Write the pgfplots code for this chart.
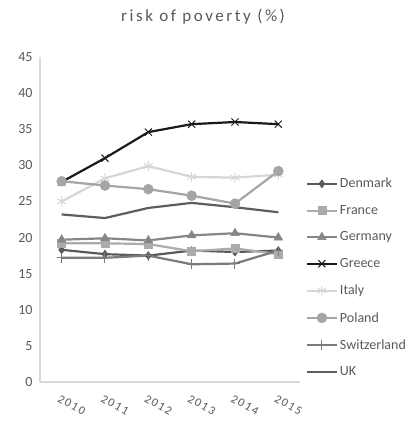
\documentclass[border=0pt]{standalone}
\usepackage{fontspec}
\setmainfont{Carlito}
\newfontfamily\spaced[LetterSpace=15]{Carlito}
\usepackage{pgfplots}
\pgfplotsset{compat=1.18}

\definecolor{txt}{HTML}{595959}
\definecolor{axgray}{HTML}{D9D9D9}
\definecolor{cDen}{HTML}{595959}
\definecolor{cFra}{HTML}{ABABAB}
\definecolor{cGer}{HTML}{868686}
\definecolor{cGre}{HTML}{1A1A1A}
\definecolor{cIta}{HTML}{D6D6D6}
\definecolor{cPol}{HTML}{A5A5A5}
\definecolor{cSwi}{HTML}{7B7B7B}
\definecolor{cUK}{HTML}{5E5E5E}

\begin{document}
\begin{tikzpicture}[x=1pt,y=1pt]
\path[use as bounding box] (0,0) rectangle (408,423);
\node[text=txt, font=\spaced\fontsize{17}{20}\selectfont] at (203,406) {risk of poverty (\%)};
\begin{axis}[
    at={(40pt,41pt)}, anchor=south west,
    scale only axis,
    width=260pt, height=325pt,
    xmin=-0.5, xmax=5.5,
    ymin=0, ymax=45,
    ytick={0,5,...,45},
    xtick={0,1,2,3,4,5},
    xticklabels={2010,2011,2012,2013,2014,2015},
    axis lines*=left,
    axis line style={draw=axgray, line width=1.2pt},
    major tick length=0pt,
    /pgf/number format/assume math mode=true,
    y tick label style={font=\fontsize{14}{16}\selectfont, text=txt, xshift=-4pt},
    xticklabel style={font=\spaced\fontsize{12}{14}\selectfont, text=txt, xshift=-1pt, yshift=-12pt, rotate=-30, anchor=north west, inner sep=0pt},
    every axis plot/.append style={line width=2.2pt},
    legend style={at={(1.01,0.64)}, anchor=north west, draw=none, fill=none,
        font=\fontsize{14}{16}\selectfont, text=txt, row sep=12pt},
    legend cell align=left,
    legend image code/.code={\draw[mark repeat=2,mark phase=2] plot coordinates {(0pt,0pt) (15pt,0pt) (30pt,0pt)};},
]
\addplot[cDen, mark=diamond*, mark size=4pt, mark options={solid, line width=0.5pt}] coordinates {
    (0,18.3) (1,17.7) (2,17.5) (3,18.2) (4,18.0) (5,18.2)};
\addlegendentry{Denmark}
\addplot[cFra, mark=square*, mark size=4pt, mark options={solid, line width=0.5pt}] coordinates {
    (0,19.2) (1,19.2) (2,19.1) (3,18.1) (4,18.5) (5,17.7)};
\addlegendentry{France}
\addplot[cGer, mark=triangle*, mark size=5pt, mark options={solid, line width=0.5pt}] coordinates {
    (0,19.7) (1,19.9) (2,19.6) (3,20.3) (4,20.6) (5,20.0)};
\addlegendentry{Germany}
\addplot[cGre, mark=x, mark size=5pt, mark options={solid, line width=1pt}] coordinates {
    (0,27.7) (1,31.0) (2,34.6) (3,35.7) (4,36.0) (5,35.7)};
\addlegendentry{Greece}
\addplot[cIta, mark=asterisk, mark size=5pt, mark options={solid, line width=1pt}] coordinates {
    (0,25.0) (1,28.2) (2,29.9) (3,28.4) (4,28.3) (5,28.7)};
\addlegendentry{Italy}
\addplot[cPol, mark=*, mark size=5pt, mark options={solid, line width=0.5pt}] coordinates {
    (0,27.8) (1,27.2) (2,26.7) (3,25.8) (4,24.7) (5,29.2)};
\addlegendentry{Poland}
\addplot[cSwi, mark=+, mark size=5pt, mark options={solid, line width=1pt}] coordinates {
    (0,17.2) (1,17.2) (2,17.5) (3,16.3) (4,16.4) (5,18.2)};
\addlegendentry{Switzerland}
\addplot[cUK, mark=none] coordinates {
    (0,23.2) (1,22.7) (2,24.1) (3,24.8) (4,24.2) (5,23.5)};
\addlegendentry{UK}
\end{axis}
\end{tikzpicture}
\end{document}
